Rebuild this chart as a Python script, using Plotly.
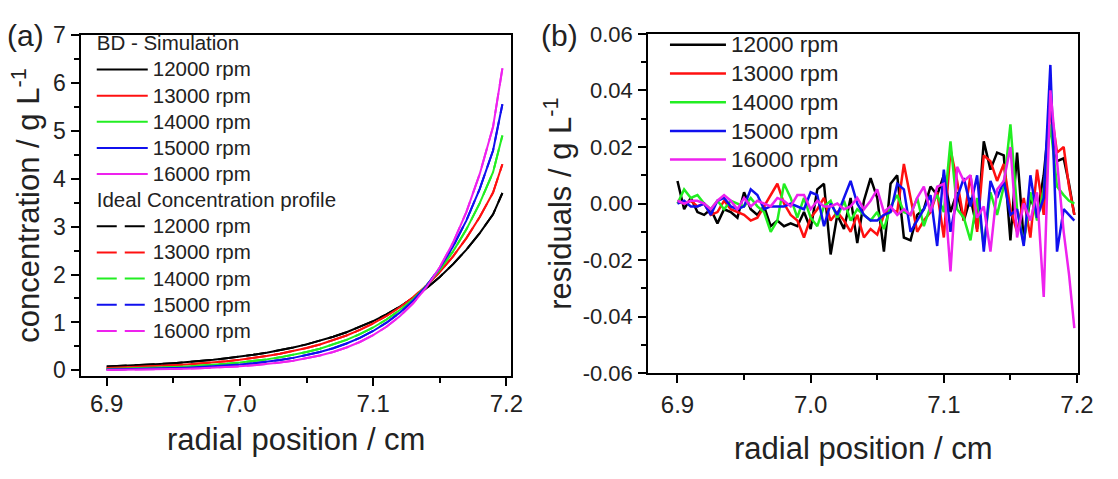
import plotly.graph_objects as go

# ---------------- data ----------------
speeds = ["12000 rpm", "13000 rpm", "14000 rpm", "15000 rpm", "16000 rpm"]
colors = ["#000000", "#ff1010", "#22ee22", "#1010ee", "#ee22ee"]
group_bd = "BD - Simulation"
group_ideal = "Ideal Concentration profile"

# panel (a): concentration profiles
r_conc = [6.90, 6.91, 6.92, 6.93, 6.94, 6.95, 6.96, 6.97, 6.98, 6.99,
          7.00, 7.01, 7.02, 7.03, 7.04, 7.05, 7.06, 7.07, 7.08, 7.09,
          7.10, 7.11, 7.12, 7.13, 7.14, 7.15, 7.16, 7.17, 7.18, 7.19, 7.197]
c_12000 = [0.080, 0.090, 0.103, 0.117, 0.133, 0.151, 0.171, 0.195, 0.221, 0.252,
           0.286, 0.325, 0.370, 0.420, 0.477, 0.543, 0.617, 0.701, 0.796, 0.905,
           1.029, 1.169, 1.329, 1.510, 1.716, 1.950, 2.217, 2.519, 2.864, 3.255, 3.700]
c_13000 = [0.051, 0.059, 0.068, 0.079, 0.092, 0.106, 0.123, 0.143, 0.166, 0.192,
           0.223, 0.258, 0.300, 0.347, 0.403, 0.467, 0.541, 0.628, 0.728, 0.844,
           0.979, 1.135, 1.316, 1.526, 1.770, 2.052, 2.379, 2.758, 3.198, 3.708, 4.300]
c_14000 = [0.030, 0.035, 0.042, 0.050, 0.059, 0.070, 0.083, 0.098, 0.116, 0.138,
           0.164, 0.194, 0.230, 0.272, 0.323, 0.383, 0.453, 0.538, 0.637, 0.755,
           0.895, 1.061, 1.258, 1.491, 1.767, 2.094, 2.482, 2.942, 3.488, 4.134, 4.900]
c_15000 = [0.018, 0.022, 0.026, 0.032, 0.039, 0.047, 0.057, 0.069, 0.083, 0.101,
           0.122, 0.147, 0.178, 0.216, 0.261, 0.316, 0.383, 0.463, 0.561, 0.679,
           0.822, 0.995, 1.204, 1.458, 1.764, 2.136, 2.585, 3.129, 3.788, 4.585, 5.550]
c_16000 = [0.010, 0.012, 0.015, 0.019, 0.024, 0.029, 0.036, 0.045, 0.056, 0.069,
           0.085, 0.106, 0.131, 0.163, 0.202, 0.250, 0.311, 0.385, 0.477, 0.592,
           0.734, 0.910, 1.128, 1.399, 1.734, 2.150, 2.666, 3.306, 4.098, 5.081, 6.300]

# panel (b): residuals
r_res = [6.900, 6.905, 6.910, 6.915, 6.920, 6.925, 6.930, 6.935, 6.940, 6.945,
         6.950, 6.955, 6.960, 6.965, 6.970, 6.975, 6.980, 6.985, 6.990, 6.995,
         7.000, 7.005, 7.010, 7.015, 7.020, 7.025, 7.030, 7.035, 7.040, 7.045,
         7.050, 7.055, 7.060, 7.065, 7.070, 7.075, 7.080, 7.085, 7.090, 7.095,
         7.100, 7.105, 7.110, 7.115, 7.120, 7.125, 7.130, 7.135, 7.140, 7.145,
         7.150, 7.155, 7.160, 7.165, 7.170, 7.175, 7.180, 7.185, 7.190, 7.194, 7.198]
res_12000 = [0.008, -0.002, 0.002, -0.003, -0.004, -0.002, -0.007, -0.002, -0.003, -0.005,
             0.004, -0.002, -0.004, -0.001, -0.008, -0.006, -0.008, -0.007, -0.008, -0.003,
             -0.009, 0.005, 0.007, -0.018, -0.004, -0.009, 0.002, -0.014, 0.001, 0.009,
             0.002, -0.017, 0.007, 0.010, -0.012, -0.013, -0.004, -0.002, 0.006, 0.003,
             0.010, -0.003, 0.004, -0.006, 0.002, -0.009, 0.022, 0.012, 0.018, 0.017,
             -0.013, 0.018, -0.013, 0.002, -0.004, 0.010, 0.034, 0.015, 0.016, 0.007, -0.004]
res_13000 = [0.001, 0.000, 0.001, -0.001, 0.000, -0.004, -0.003, 0.001, -0.002, -0.003,
             -0.004, -0.006, -0.005, -0.001, 0.003, 0.007, 0.000, -0.004, -0.006, -0.012,
             -0.005, -0.002, 0.002, -0.006, -0.003, -0.006, -0.010, -0.004, -0.012, -0.009,
             -0.011, -0.004, -0.002, -0.003, 0.014, 0.002, -0.010, -0.006, -0.003, 0.004,
             -0.012, 0.019, 0.008, -0.006, 0.010, -0.010, 0.017, 0.015, 0.008, 0.014,
             -0.002, -0.010, 0.002, -0.012, 0.012, -0.004, 0.035, 0.018, 0.020, 0.006, -0.004]
res_14000 = [0.000, 0.005, 0.002, 0.003, 0.000, -0.002, 0.001, -0.002, 0.001, 0.000,
             -0.001, 0.002, -0.001, -0.003, -0.010, -0.006, 0.007, 0.002, -0.005, 0.002,
             -0.005, -0.008, -0.001, 0.001, -0.005, 0.001, -0.006, -0.002, -0.004, -0.006,
             -0.003, -0.009, -0.001, 0.003, -0.003, -0.004, 0.002, -0.008, -0.001, 0.003,
             -0.003, 0.022, -0.002, -0.005, -0.013, 0.002, -0.015, 0.004, -0.004, 0.006,
             0.028, -0.002, -0.014, 0.004, -0.006, 0.005, 0.028, 0.006, 0.003, 0.001, 0.000]
res_15000 = [0.000, 0.001, -0.001, -0.001, 0.000, -0.004, 0.001, 0.002, -0.001, -0.002,
             -0.001, 0.005, 0.003, -0.002, -0.001, -0.001, -0.001, 0.000, -0.001, -0.002,
             0.004, 0.003, -0.008, 0.000, -0.004, 0.002, 0.008, 0.000, -0.004, -0.006,
             -0.006, -0.004, -0.003, 0.007, 0.005, -0.010, -0.006, -0.002, 0.003, -0.015,
             0.012, -0.010, 0.002, 0.009, -0.001, 0.010, -0.017, 0.008, 0.002, 0.008,
             -0.004, -0.002, -0.015, 0.010, -0.005, 0.002, 0.049, -0.017, -0.002, -0.004, -0.006]
res_16000 = [0.001, 0.000, 0.001, 0.001, 0.000, -0.002, 0.001, 0.003, 0.001, -0.002,
             0.002, -0.001, 0.001, 0.000, -0.001, 0.002, 0.001, -0.001, 0.003, 0.003,
             -0.002, 0.001, -0.001, -0.001, 0.000, -0.002, -0.001, 0.002, -0.002, 0.001,
             0.005, -0.003, -0.001, -0.004, -0.002, -0.004, 0.002, 0.006, -0.003, 0.006,
             0.007, -0.024, 0.013, 0.008, 0.010, -0.005, -0.001, -0.017, 0.005, 0.008,
             0.020, -0.012, 0.000, -0.006, 0.004, -0.033, 0.040, 0.015, -0.010, -0.025, -0.044]

conc = [c_12000, c_13000, c_14000, c_15000, c_16000]
res = [res_12000, res_13000, res_14000, res_15000, res_16000]

x_tickvals = [6.9, 7.0, 7.1, 7.2]
x_ticktext = ["6.9", "7.0", "7.1", "7.2"]
ya_tickvals = [0, 1, 2, 3, 4, 5, 6, 7]
yb_tickvals = [-0.06, -0.04, -0.02, 0.0, 0.02, 0.04, 0.06]
yb_ticktext = ["-0.06", "-0.04", "-0.02", "0.00", "0.02", "0.04", "0.06"]

# ---------------- figure ----------------
FONT = "Liberation Sans, Arial, sans-serif"
TXT = "#222222"
W, H = 1118, 479


def sized(text, px):
    return f"<span style='font-size:{px}px'>{text}</span>"


def px_x(p):
    return p / W


def px_y(p):
    return 1 - p / H


fig = go.Figure()

# ideal profiles (dashed, underneath)
for i, (name, col) in enumerate(zip(speeds, colors)):
    fig.add_trace(go.Scatter(
        x=r_conc, y=conc[i], mode="lines", name=sized(name, 20.5),
        line=dict(color=col, width=2, dash="20px,8px"),
        legend="legend", legendgroup="ideal", legendrank=10 + i,
        legendgrouptitle=dict(text=sized(group_ideal, 20.5)) if i == 0 else None,
        xaxis="x", yaxis="y"))
# BD simulation (solid)
for i, (name, col) in enumerate(zip(speeds, colors)):
    fig.add_trace(go.Scatter(
        x=r_conc, y=conc[i], mode="lines", name=sized(name, 20.5),
        line=dict(color=col, width=2),
        legend="legend", legendgroup="bd", legendrank=1 + i,
        legendgrouptitle=dict(text=sized(group_bd, 20.5)) if i == 0 else None,
        xaxis="x", yaxis="y"))
# residuals
for i, (name, col) in enumerate(zip(speeds, colors)):
    fig.add_trace(go.Scatter(
        x=r_res, y=res[i], mode="lines", name=sized(name, 22.5),
        line=dict(color=col, width=2.5),
        legend="legend2", xaxis="x2", yaxis="y2"))

axis_common = dict(
    showline=True, linecolor="black", linewidth=2, mirror=True,
    ticks="outside", ticklen=8, tickwidth=2, tickcolor="black",
    showgrid=False, zeroline=False,
    tickfont=dict(family=FONT, size=24, color=TXT),
)
minor_x = dict(ticks="outside", ticklen=5, tickwidth=2, tickcolor="black",
               dtick=0.05, tick0=6.9, showgrid=False)
title_font = dict(family=FONT, size=31, color=TXT)

fig.update_layout(
    width=W, height=H,
    margin=dict(l=0, r=0, t=0, b=0),
    paper_bgcolor="white", plot_bgcolor="white",
    font=dict(family=FONT, color=TXT),
    showlegend=True,
    xaxis=dict(axis_common, domain=[px_x(82.5), px_x(518)], range=[6.881, 7.2035],
               tickvals=x_tickvals, ticktext=x_ticktext, minor=minor_x,
               ticklabelstandoff=-3,
               title=dict(text="radial position / cm", font=title_font, standoff=12),
               anchor="y"),
    yaxis=dict(axis_common, domain=[px_y(384), px_y(23)], range=[-0.12, 7.0],
               tickvals=ya_tickvals, tickfont=dict(family=FONT, size=23, color=TXT),
               ticklabelstandoff=1,
               minor=dict(ticks="outside", ticklen=5, tickwidth=2, tickcolor="black",
                          dtick=0.5, tick0=0, showgrid=False),
               title=dict(text="concentration / g L<sup>-1</sup>", font=title_font,
                          standoff=4),
               anchor="x"),
    xaxis2=dict(axis_common, domain=[px_x(657), px_x(1093)], range=[6.878, 7.201],
                tickvals=x_tickvals, ticktext=x_ticktext, minor=minor_x,
                ticklabelstandoff=1,
                title=dict(text="radial position / cm", font=title_font, standoff=20),
                anchor="y2"),
    yaxis2=dict(axis_common, domain=[px_y(381), px_y(22)], range=[-0.06, 0.06],
                tickvals=yb_tickvals, ticktext=yb_ticktext,
                tickfont=dict(family=FONT, size=22, color=TXT),
                ticklabelstandoff=1,
                minor=dict(ticks="outside", ticklen=5, tickwidth=2, tickcolor="black",
                           dtick=0.01, tick0=0, showgrid=False),
                title=dict(text="residuals / g L<sup>-1</sup>", font=title_font, standoff=2),
                anchor="x2"),
    legend=dict(x=px_x(93), y=px_y(13), xanchor="left", yanchor="top",
                bgcolor="rgba(0,0,0,0)", borderwidth=0,
                font=dict(family=FONT, size=17.8, color=TXT),
                grouptitlefont=dict(family=FONT, size=17.8, color=TXT),
                itemwidth=51, tracegroupgap=0, traceorder="grouped"),
    legend2=dict(x=px_x(674), y=px_y(13), xanchor="left", yanchor="top",
                 bgcolor="rgba(0,0,0,0)", borderwidth=0,
                 font=dict(family=FONT, size=19.8, color=TXT),
                 itemwidth=56, tracegroupgap=0),
    annotations=[
        dict(text="(a)", x=px_x(5), y=px_y(24), xref="paper", yref="paper",
             xanchor="left", yanchor="middle", showarrow=False,
             font=dict(family=FONT, size=30, color=TXT)),
        dict(text="(b)", x=px_x(546), y=px_y(24), xref="paper", yref="paper",
             xanchor="left", yanchor="middle", showarrow=False,
             font=dict(family=FONT, size=30, color=TXT)),
    ],
)

fig.write_html("out.html")
